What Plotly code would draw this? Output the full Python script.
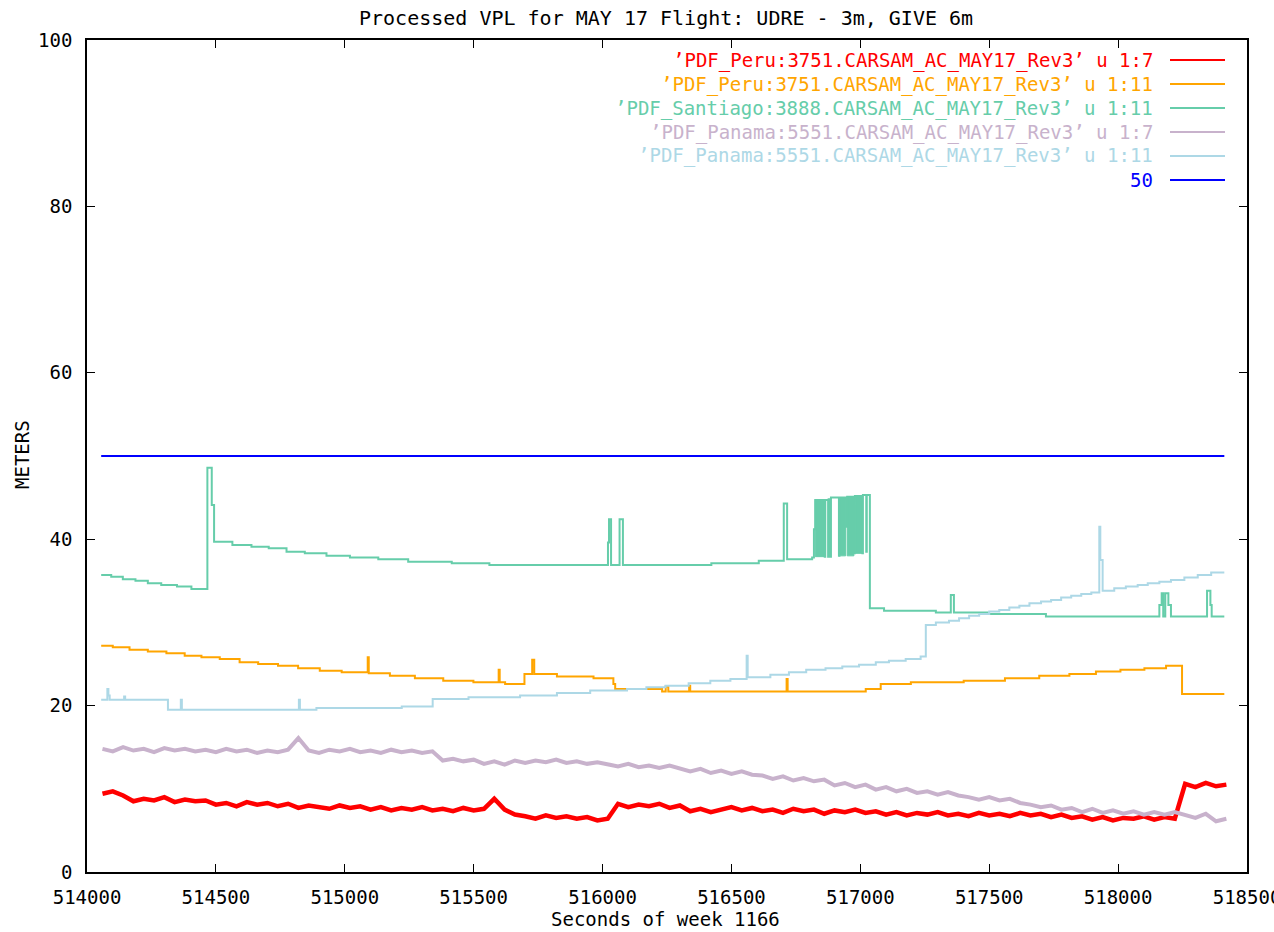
import plotly.graph_objects as go

# ---------------- data ----------------
# noisy series (columns 7) sampled on a 40 s grid
t_noise = list(range(514060, 518421, 40))

peru_vpl = [9.4, 9.7, 9.2, 8.5, 8.8, 8.6, 9.0, 8.4, 8.7, 8.5,
            8.6, 8.1, 8.3, 7.9, 8.4, 8.1, 8.3, 7.9, 8.2, 7.7,
            8.0, 7.8, 7.6, 8.0, 7.7, 7.9, 7.5, 7.8, 7.4, 7.7,
            7.5, 7.8, 7.4, 7.6, 7.3, 7.7, 7.4, 7.6, 8.8, 7.5,
            6.9, 6.7, 6.4, 6.8, 6.5, 6.7, 6.4, 6.6, 6.2, 6.4,
            8.2, 7.8, 8.1, 7.9, 8.2, 7.7, 8.0, 7.3, 7.6, 7.2,
            7.5, 7.8, 7.4, 7.7, 7.3, 7.5, 7.1, 7.6, 7.3, 7.5,
            7.0, 7.4, 7.2, 7.5, 7.1, 7.3, 6.9, 7.2, 6.8, 7.1,
            6.9, 7.2, 6.8, 7.0, 6.7, 7.1, 6.8, 7.0, 6.7, 7.1,
            6.8, 7.0, 6.6, 6.9, 6.5, 6.7, 6.3, 6.6, 6.2, 6.5,
            6.4, 6.7, 6.3, 6.6, 6.4, 10.6, 10.2, 10.7, 10.3, 10.5]

panama_vpl = [14.8, 14.5, 15.0, 14.6, 14.8, 14.4, 14.9, 14.6, 14.8, 14.5,
              14.7, 14.4, 14.8, 14.5, 14.7, 14.3, 14.6, 14.4, 14.7, 16.1,
              14.6, 14.3, 14.7, 14.5, 14.8, 14.4, 14.6, 14.3, 14.7, 14.4,
              14.6, 14.3, 14.5, 13.4, 13.6, 13.3, 13.5, 13.0, 13.3, 12.9,
              13.4, 13.1, 13.4, 13.2, 13.5, 13.1, 13.3, 13.0, 13.2, 12.9,
              12.7, 13.0, 12.6, 12.8, 12.5, 12.8, 12.4, 12.1, 12.4, 11.9,
              12.2, 11.8, 12.1, 11.7, 11.6, 11.2, 11.5, 11.0, 11.3, 10.9,
              11.1, 10.4, 10.7, 10.2, 10.5, 9.9, 10.2, 9.7, 10.0, 9.5,
              9.7, 9.3, 9.6, 9.2, 9.0, 8.7, 9.0, 8.6, 8.8, 8.3,
              8.1, 7.8, 8.0, 7.5, 7.7, 7.2, 7.6, 7.1, 7.4, 7.0,
              7.3, 6.9, 7.2, 6.9, 7.2, 6.8, 6.5, 7.0, 6.1, 6.4]

# stepped series (columns 11): change points
peru_hpl_t = [514055, 514100, 514165, 514236, 514308, 514379, 514444, 514515,
              514592, 514664, 514741, 514819, 514903, 514988, 515089, 515093,
              515175, 515272, 515382, 515499, 515597, 515601, 515622, 515697,
              515727, 515735, 515823, 515965, 516042, 516049, 516231, 516245,
              516255, 516336, 516340, 516714, 516718, 517021, 517079, 517196,
              517401, 517561, 517694, 517811, 517914, 518009, 518102, 518186,
              518248, 518412]
peru_hpl = [27.2, 27.0, 26.7, 26.5, 26.3, 26.0, 25.8, 25.6,
            25.2, 25.0, 24.8, 24.5, 24.2, 24.0, 25.8, 23.9,
            23.6, 23.3, 23.0, 22.8, 24.3, 22.8, 22.6, 23.8,
            25.5, 23.8, 23.5, 23.3, 22.6, 22.0, 21.7, 22.3,
            21.7, 22.4, 21.7, 23.2, 21.7, 22.0, 22.6, 22.8,
            23.0, 23.3, 23.6, 23.8, 24.1, 24.3, 24.5, 24.8,
            21.4, 21.4]

santiago_t = [514055, 514094, 514139, 514188, 514236, 514288, 514349, 514405,
              514467, 514484, 514493, 514564, 514638, 514705, 514774, 514845,
              514929, 515020, 515130, 515246, 515415, 515561, 516021, 516025,
              516033, 516066, 516079, 516422, 516606, 516703, 516716, 516813,
              516820, 516825, 516862, 516864, 516875, 516877, 516884, 516886,
              516917, 516919, 516945, 516949, 516976, 516979, 517008, 517010,
              517023, 517025, 517037, 517092, 517293, 517351, 517363, 517494,
              517720, 518160, 518169, 518175, 518183, 518195, 518205, 518345,
              518358, 518363, 518412]
santiago_hpl = [35.7, 35.5, 35.2, 35.0, 34.7, 34.5, 34.3, 34.0,
                48.6, 44.1, 39.7, 39.3, 39.1, 38.9, 38.5, 38.3,
                38.0, 37.8, 37.6, 37.3, 37.1, 36.9, 39.6, 42.4,
                36.9, 42.4, 36.9, 37.1, 37.4, 44.3, 37.6, 37.8,
                41.2, 44.7, 37.9, 44.7, 37.9, 44.8, 37.9, 45.0,
                38.0, 45.0, 41.5, 45.1, 38.3, 45.2, 38.3, 45.3,
                38.5, 45.3, 31.7, 31.4, 31.2, 33.3, 31.2, 31.0,
                30.7, 32.1, 33.5, 30.7, 33.5, 32.1, 30.7, 33.8,
                32.1, 30.7, 30.7]
# dense oscillation blocks in the Santiago series
blk_start = [516825, 516917, 516949, 516982]
blk_end = [516859, 516943, 516975, 517008]
blk_low = [37.9, 38.0, 38.0, 38.3]
blk_high = [44.7, 45.0, 45.1, 45.2]

panama_hpl_t = [514055, 514079, 514083, 514088, 514144, 514148, 514314, 514364,
                514368, 514822, 514826, 514890, 515221, 515341, 515480, 515680,
                515823, 515952, 516095, 516170, 516244, 516334, 516418, 516496,
                516559, 516563, 516651, 516723, 516790, 516865, 516930, 516995,
                517060, 517111, 517176, 517234, 517254, 517293, 517344, 517383,
                517422, 517461, 517500, 517539, 517578, 517617, 517656, 517701,
                517740, 517779, 517818, 517857, 517896, 517927, 517931, 517940,
                517985, 518030, 518076, 518115, 518160, 518205, 518257, 518309,
                518361, 518412]
panama_hpl = [20.7, 22.0, 21.2, 20.7, 21.1, 20.7, 19.5, 20.7,
              19.5, 20.7, 19.5, 19.7, 19.9, 20.8, 21.0, 21.2,
              21.5, 21.8, 22.0, 22.2, 22.4, 22.7, 23.0, 23.2,
              26.0, 23.4, 23.7, 24.0, 24.3, 24.5, 24.7, 24.9,
              25.2, 25.4, 25.6, 25.9, 29.7, 30.0, 30.2, 30.5,
              30.8, 31.0, 31.3, 31.5, 31.8, 32.0, 32.3, 32.5,
              32.7, 33.0, 33.2, 33.4, 33.6, 41.5, 37.5, 33.8,
              34.1, 34.3, 34.5, 34.7, 34.9, 35.1, 35.4, 35.7,
              36.0, 36.0]

ref_t = [514055, 518412]
ref_val = [50, 50]

x_ticks = list(range(514000, 518501, 500))
y_ticks = [0, 20, 40, 60, 80, 100]

labels = ["’PDF_Peru:3751.CARSAM_AC_MAY17_Rev3’ u 1:7",
          "’PDF_Peru:3751.CARSAM_AC_MAY17_Rev3’ u 1:11",
          "’PDF_Santiago:3888.CARSAM_AC_MAY17_Rev3’ u 1:11",
          "’PDF_Panama:5551.CARSAM_AC_MAY17_Rev3’ u 1:7",
          "’PDF_Panama:5551.CARSAM_AC_MAY17_Rev3’ u 1:11",
          "50"]
colors = ["#ff0000", "#ffa500", "#66cdaa", "#c8b2cc", "#add8e6", "#0000ff"]

FONT = "DejaVu Sans Mono"
FS = 19

fig = go.Figure()

# draw order: gnuplot draws in order listed
fig.add_trace(go.Scatter(x=t_noise, y=peru_vpl, mode="lines",
                         line=dict(color=colors[0], width=4.5), showlegend=False))
fig.add_trace(go.Scatter(x=peru_hpl_t, y=peru_hpl, mode="lines", line_shape="hv",
                         line=dict(color=colors[1], width=2), showlegend=False))
# Santiago blocks
bx, by = [], []
for a, b, lo, hi in zip(blk_start, blk_end, blk_low, blk_high):
    bx += [a, a, b, b, a, None]
    by += [lo, hi, hi, lo, lo, None]
fig.add_trace(go.Scatter(x=bx, y=by, mode="lines", fill="toself",
                         fillcolor=colors[2], line=dict(color=colors[2], width=1),
                         showlegend=False))
fig.add_trace(go.Scatter(x=santiago_t, y=santiago_hpl, mode="lines", line_shape="hv",
                         line=dict(color=colors[2], width=2), showlegend=False))
fig.add_trace(go.Scatter(x=t_noise, y=panama_vpl, mode="lines",
                         line=dict(color=colors[3], width=4), showlegend=False))
fig.add_trace(go.Scatter(x=panama_hpl_t, y=panama_hpl, mode="lines", line_shape="hv",
                         line=dict(color=colors[4], width=2), showlegend=False))
fig.add_trace(go.Scatter(x=ref_t, y=ref_val, mode="lines",
                         line=dict(color=colors[5], width=2), showlegend=False))

# legend (gnuplot style: right-aligned text, sample line to the right)
L, R, T, B = 87, 1247, 40, 872
W, H = R - L, B - T
for i, (lab, col) in enumerate(zip(labels, colors)):
    py = 60 + 24 * i
    yp = (B - py) / H
    fig.add_annotation(x=(1155 - L) / W, y=yp, xref="paper", yref="paper",
                       text=lab, showarrow=False, xanchor="right", yanchor="middle",
                       font=dict(family=FONT, size=FS, color=col))
    fig.add_shape(type="line", xref="paper", yref="paper",
                  x0=(1170 - L) / W, x1=(1225 - L) / W, y0=yp, y1=yp,
                  line=dict(color=col, width=2))

fig.add_annotation(x=(666 - L) / W, y=(B - 18) / H, xref="paper", yref="paper",
                   text="Processed VPL for MAY 17 Flight: UDRE - 3m, GIVE 6m",
                   showarrow=False, xanchor="center", yanchor="middle",
                   font=dict(family=FONT, size=20, color="black"))
fig.add_annotation(x=(22 - L) / W, y=(B - 455) / H, xref="paper", yref="paper",
                   text="METERS", textangle=-90, showarrow=False,
                   xanchor="center", yanchor="middle",
                   font=dict(family=FONT, size=FS, color="black"))
fig.add_annotation(x=(665 - L) / W, y=(B - 919) / H, xref="paper", yref="paper",
                   text="Seconds of week 1166", showarrow=False,
                   xanchor="center", yanchor="middle",
                   font=dict(family=FONT, size=FS, color="black"))

axis_common = dict(showline=True, linecolor="black", linewidth=1.5, mirror="ticks",
                   ticks="inside", ticklen=8, tickwidth=1.2, tickcolor="black",
                   showgrid=False, zeroline=False, ticklabeloverflow="allow",
                   automargin=False,
                   tickfont=dict(family=FONT, size=FS, color="black"))
fig.update_xaxes(range=[514000, 518500], tickvals=x_ticks, ticklabelstandoff=7,
                 ticktext=[str(v) for v in x_ticks], **axis_common)
fig.update_yaxes(range=[0, 100], tickvals=y_ticks, ticklabelstandoff=9,
                 ticktext=[str(v) for v in y_ticks], **axis_common)

fig.update_layout(width=1274, height=932, margin=dict(l=L, r=1274 - R, t=T, b=932 - B),
                  plot_bgcolor="white", paper_bgcolor="white", showlegend=False)

fig.write_html("out.html")
